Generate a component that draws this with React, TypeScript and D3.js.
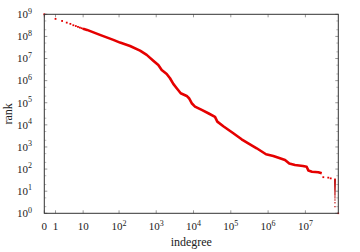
import React from "react";
import * as d3 from "d3";

// ---- data ----
const headIndegree = [0, 1, 2, 3, 4, 5, 6, 7, 8, 9, 10];
const headRank = [1.0e9, 6.2e8, 5.0e8, 4.2e8, 3.7e8, 3.2e8, 2.95e8, 2.7e8, 2.5e8, 2.35e8, 2.2e8];

const bodyIndegree = [
  10, 13, 30, 70, 106, 198, 368, 555, 835, 1138, 1403, 1913, 2344, 2871, 3545, 4540, 6577, 7580,
  8950, 10970, 16600, 24900, 37700, 43500, 63000, 116700, 195000, 294000, 494000, 743000, 879000,
  1.38e6, 2.08e6, 2.84e6, 3.7e6, 5.26e6, 8.6e6, 1.08e7, 1.2e7, 1.5e7, 2.22e7, 2.74e7,
];
const bodyRank = [
  2.2e8, 1.97e8, 1.17e8, 6.95e7, 5.25e7, 3.7e7, 2.28e7, 1.46e7, 8.0e6, 5.1e6, 3.05e6, 2.0e6, 1.28e6,
  7.1e5, 4.5e5, 2.69e5, 2.03e5, 1.6e5, 9.5e4, 6.7e4, 4.72e4, 3.35e4, 2.28e4, 1.4e4, 8650, 4170, 2230,
  1470, 873, 562, 467, 392, 308, 258, 179, 153, 138, 128, 86, 76, 72, 65,
];

const tailIndegree = [3.02e7, 4.1e7, 4.77e7, 6.22e7];
const tailRank = [43, 41, 38, 34];

const topIndegree = 6.2e7;
const topRanks = [2, 3, 4, 5, 6, 7, 8, 9, 10, 11, 12, 13, 14, 15, 16, 17, 18, 19, 20, 21, 22, 23, 24, 25, 26, 27, 28, 29, 30, 31, 32, 33];
const maxIndegree = 7.62e7;
const maxRank = 1;

const xTicks = [0, 1, 10, 1e2, 1e3, 1e4, 1e5, 1e6, 1e7];
const xTickBase = ["0", "1", "10", "10", "10", "10", "10", "10", "10"];
const xTickExp = ["", "", "", "2", "3", "4", "5", "6", "7"];
const yTicks = [1, 1e1, 1e2, 1e3, 1e4, 1e5, 1e6, 1e7, 1e8, 1e9];
const yTickExp = ["0", "1", "2", "3", "4", "5", "6", "7", "8", "9"];
const yMinor = [2, 5];

const W = 360, H = 252;
const L = 44.3, R = 338.3, T = 14.3, B = 213.3;
const RED = "#e50000";
const FONT = "'Liberation Serif', 'Times New Roman', serif";

export default function App() {
  const x = d3.scaleSymlog().constant(1).domain([0, maxIndegree]).range([L, R]);
  const y = d3.scaleLog().domain([1, 1e9]).range([B, T]);

  const bodyPts = bodyIndegree.map((d, i) => [x(d), y(bodyRank[i])] as [number, number]);
  const line = d3.line()(bodyPts) || "";

  const minorTicks: number[] = [];
  yTicks.slice(0, -1).forEach((t) => yMinor.forEach((m) => minorTicks.push(t * m)));

  const dot = (cx: number, cy: number, s: number, key: string, fill = RED) => (
    <rect key={key} x={cx - s / 2} y={cy - s / 2} width={s} height={s} fill={fill} />
  );

  return (
    <svg width={W} height={H} style={{ position: "absolute", left: 0, top: 0 }} fontFamily={FONT}>
      <rect width={W} height={H} fill="#fff" />
      {/* ticks */}
      {xTicks.map((t, i) => (
        <g key={"xt" + i} stroke="#999" strokeWidth={1}>
          <line x1={x(t)} x2={x(t)} y1={B} y2={B - 3} />
          <line x1={x(t)} x2={x(t)} y1={T} y2={T + 3} />
        </g>
      ))}
      {yTicks.map((t, i) => (
        <g key={"yt" + i} stroke="#999" strokeWidth={1}>
          <line x1={L} x2={L + 3} y1={y(t)} y2={y(t)} />
          <line x1={R} x2={R - 3} y1={y(t)} y2={y(t)} />
        </g>
      ))}
      {minorTicks.map((t, i) => (
        <g key={"ym" + i} stroke="#aaa" strokeWidth={0.8}>
          <line x1={L} x2={L + 2} y1={y(t)} y2={y(t)} />
          <line x1={R} x2={R - 2} y1={y(t)} y2={y(t)} />
        </g>
      ))}
      {/* data */}
      <path d={line} fill="none" stroke={RED} strokeWidth={2.6} strokeLinejoin="round" />
      {headIndegree.map((d, i) => dot(x(d), y(headRank[i]), 1.8, "h" + i))}
      {tailIndegree.map((d, i) => dot(x(d), y(tailRank[i]), 1.8, "t" + i))}
      {topRanks.map((r, i) => dot(x(topIndegree), y(r), 1.3, "r" + i, "#c01818"))}
      {dot(x(maxIndegree), y(maxRank), 1.6, "max")}
      {/* frame */}
      <rect x={L} y={T} width={R - L} height={B - T} fill="none" stroke="#333" strokeWidth={1} />
      {/* x labels */}
      {xTicks.map((t, i) => (
        <text key={"xl" + i} x={x(t)} y={B + 17} fontSize={11} textAnchor="middle" fill="#222">
          {xTickBase[i]}
          {xTickExp[i] && (
            <tspan dy={-4.5} fontSize={8}>
              {xTickExp[i]}
            </tspan>
          )}
        </text>
      ))}
      {yTicks.map((t, i) => (
        <text key={"yl" + i} x={32} y={y(t) + 3.8} fontSize={11} textAnchor="end" fill="#222">
          10
          <tspan dy={-4.5} fontSize={8}>
            {yTickExp[i]}
          </tspan>
        </text>
      ))}
      <text x={(L + R) / 2} y={246} fontSize={12} textAnchor="middle" fill="#222">
        indegree
      </text>
      <text transform={`translate(12,${(T + B) / 2}) rotate(-90)`} fontSize={12} textAnchor="middle" fill="#222">
        rank
      </text>
    </svg>
  );
}
